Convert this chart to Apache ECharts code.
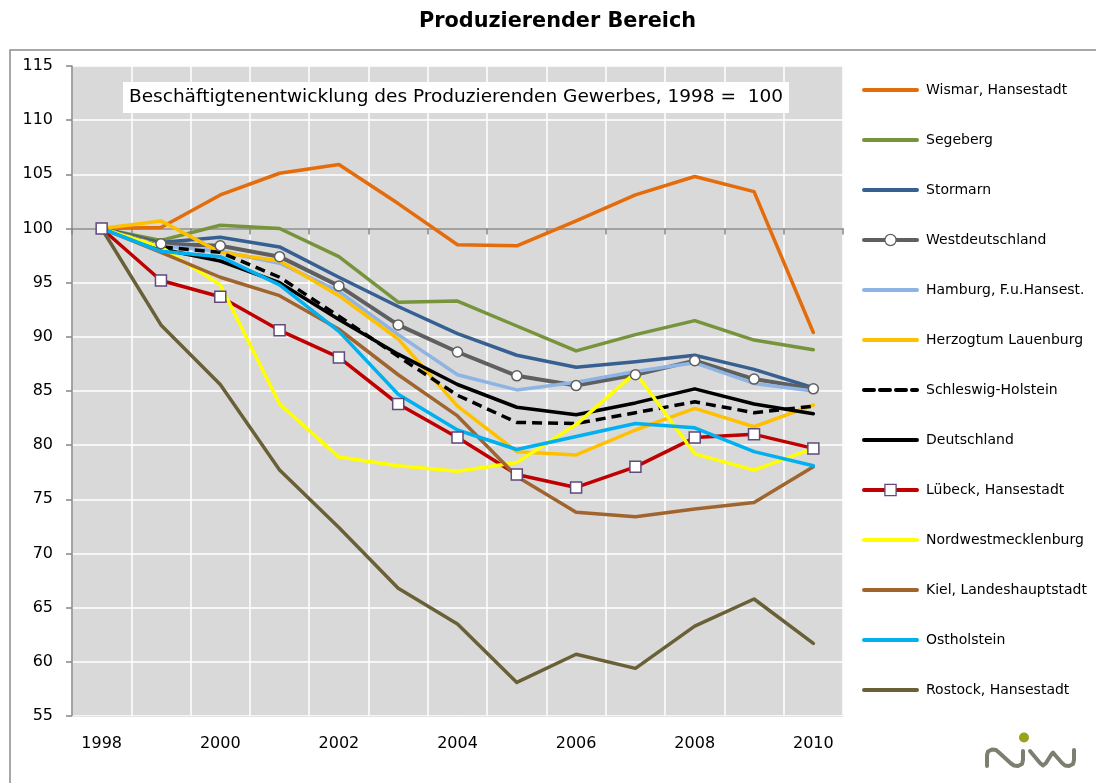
<!DOCTYPE html>
<html>
<head>
<meta charset="utf-8">
<script src="https://cdn.jsdelivr.net/npm/echarts@6/dist/echarts.min.js"></script>
<style>
  html, body { margin: 0; padding: 0; background: #fff; }
  #chart { width: 1096px; height: 783px; }
</style>
</head>
<body>
<div id="chart"></div>
<script>
// Years on the category axis
const years = ['1998','1999','2000','2001','2002','2003','2004','2005','2006','2007','2008','2009','2010'];

// Employment index, producing sector (1998 = 100)
const wismar      = [100, 100.1, 103.1, 105.1, 105.9, 102.3, 98.5, 98.4, 100.7, 103.1, 104.8, 103.4, 90.4];
const segeberg    = [100, 98.9, 100.3, 100.0, 97.4, 93.2, 93.3, 91.0, 88.7, 90.2, 91.5, 89.7, 88.8];
const stormarn    = [100, 98.7, 99.2, 98.3, 95.5, 92.8, 90.3, 88.3, 87.2, 87.7, 88.3, 87.0, 85.3];
const westdeutsch = [100, 98.6, 98.4, 97.4, 94.7, 91.1, 88.6, 86.4, 85.5, 86.5, 87.8, 86.1, 85.2];
const hamburg     = [100, 98.4, 97.9, 96.8, 94.2, 90.2, 86.5, 85.1, 85.8, 86.8, 87.6, 85.7, 85.0];
const lauenburg   = [100, 100.7, 97.8, 97.0, 93.8, 89.8, 83.6, 79.4, 79.1, 81.4, 83.4, 81.7, 83.7];
const schleswigH  = [100, 98.3, 97.8, 95.5, 91.9, 88.2, 84.6, 82.1, 82.0, 83.0, 84.0, 83.0, 83.6];
const deutschland = [100, 98.1, 97.0, 95.0, 91.6, 88.4, 85.6, 83.5, 82.8, 83.9, 85.2, 83.8, 82.9];
const luebeck     = [100, 95.2, 93.7, 90.6, 88.1, 83.8, 80.7, 77.3, 76.1, 78.0, 80.7, 81.0, 79.7];
const nwMecklenb  = [100, 98.3, 94.8, 83.8, 78.9, 78.1, 77.6, 78.4, 81.9, 86.7, 79.2, 77.7, 79.7];
const kiel        = [100, 97.8, 95.5, 93.8, 90.7, 86.5, 82.7, 77.1, 73.8, 73.4, 74.1, 74.7, 78.0];
const ostholstein = [100, 97.9, 97.4, 94.8, 90.5, 84.7, 81.4, 79.6, 80.8, 82.0, 81.6, 79.4, 78.1];
const rostock     = [100, 91.1, 85.6, 77.7, 72.4, 66.8, 63.5, 58.1, 60.7, 59.4, 63.3, 65.8, 61.7];

// Value axis range
const yMin = 55, yMax = 115, yStep = 5, baseLine = 100;

const FONT = 'DejaVu Sans';

const grid = { left: 72, top: 66, right: 253, bottom: 67 };
const plotH = 783 - grid.top - grid.bottom;
// the reference axis through 100 sits above the bottom edge of the plot
const baseOffset = -plotH * (baseLine - yMin) / (yMax - yMin);

function lineSeries(name, data, color, extra) {
  return Object.assign({
    name: name,
    type: 'line',
    data: data,
    symbol: 'none',
    lineStyle: { color: color, width: 3.5, cap: 'round', join: 'round' },
    itemStyle: { color: color },
    emphasis: { disabled: true },
    z: 2
  }, extra || {});
}

const series = [
  lineSeries('Wismar, Hansestadt', wismar, '#E46C0A'),
  lineSeries('Segeberg', segeberg, '#77933C'),
  lineSeries('Stormarn', stormarn, '#376092'),
  lineSeries('Westdeutschland', westdeutsch, '#5F5F5F', {
    symbol: 'circle', symbolSize: 10,
    lineStyle: { color: '#5F5F5F', width: 4, cap: 'round', join: 'round' },
    itemStyle: { color: '#ffffff', borderColor: '#5F5F5F', borderWidth: 1.5 }
  }),
  lineSeries('Hamburg, F.u.Hansest.', hamburg, '#8EB4E3'),
  lineSeries('Herzogtum Lauenburg', lauenburg, '#FFC000'),
  lineSeries('Schleswig-Holstein', schleswigH, '#000000', {
    lineStyle: { color: '#000000', width: 3.5, type: [10, 6], cap: 'butt', join: 'round' }
  }),
  lineSeries('Deutschland', deutschland, '#000000'),
  lineSeries('Lübeck, Hansestadt', luebeck, '#C00000', {
    symbol: 'rect', symbolSize: 11,
    itemStyle: { color: '#ffffff', borderColor: '#604A7B', borderWidth: 1.5 }
  }),
  lineSeries('Nordwestmecklenburg', nwMecklenb, '#FFFF00'),
  lineSeries('Kiel, Landeshauptstadt', kiel, '#A0652F'),
  lineSeries('Ostholstein', ostholstein, '#00B0F0'),
  lineSeries('Rostock, Hansestadt', rostock, '#6A6038')
];

// Legend entries: thick line keys, with the marker only where the series has one
const legendItems = series.map(s => {
  const hasMarker = s.symbol !== 'none';
  return {
    name: s.name,
    lineStyle: { color: s.lineStyle.color, width: 4, type: s.lineStyle.type || 'solid', cap: 'round' },
    itemStyle: hasMarker
      ? { color: '#ffffff', borderColor: s.itemStyle.borderColor, borderWidth: 1.3, opacity: 1 }
      : { opacity: 0 }
  };
});

const chart = echarts.init(document.getElementById('chart'), null, { renderer: 'canvas' });

const logoStroke = { fill: null, stroke: '#7E7E70', lineWidth: 4, lineCap: 'round', lineJoin: 'round' };

chart.setOption({
  animation: false,
  backgroundColor: '#ffffff',
  textStyle: { fontFamily: FONT },
  title: [
    {
      text: 'Produzierender Bereich',
      left: 414, top: 6,
      textStyle: { fontFamily: FONT, fontWeight: 'bold', fontSize: 20.8, color: '#000' }
    },
    {
      text: 'Beschäftigtenentwicklung des Produzierenden Gewerbes, 1998 =  100',
      left: 123, top: 82,
      backgroundColor: '#ffffff',
      padding: [6, 6, 6, 6],
      textStyle: { fontFamily: FONT, fontWeight: 'normal', fontSize: 18.5, color: '#000' }
    }
  ],
  legend: {
    orient: 'vertical',
    left: 862, top: 83,
    itemWidth: 53, itemHeight: 14,
    itemGap: 36,
    padding: 0,
    selectedMode: false,
    textStyle: { fontFamily: FONT, fontSize: 14, lineHeight: 14, color: '#000', padding: [0, 0, 0, 4] },
    data: legendItems
  },
  grid: Object.assign({
    show: true, backgroundColor: '#D9D9D9', borderWidth: 0, containLabel: false
  }, grid),
  xAxis: [
    {
      type: 'category',
      data: years,
      boundaryGap: true,
      axisLine: { show: true, lineStyle: { color: '#E4E4E4', width: 1 } },
      axisTick: { show: false },
      axisLabel: { interval: 1, margin: 20, fontFamily: FONT, fontSize: 16, color: '#000' },
      splitLine: { show: true, interval: 0, lineStyle: { color: '#ffffff', width: 1.5 } }
    },
    {
      // axis through the base year level (100)
      type: 'category',
      data: years,
      boundaryGap: true,
      position: 'bottom',
      offset: baseOffset,
      axisLine: { show: true, lineStyle: { color: '#868686', width: 1.5 } },
      axisTick: { show: true, interval: 0, length: 6, lineStyle: { color: '#868686', width: 1.5 } },
      axisLabel: { show: false },
      splitLine: { show: false }
    }
  ],
  yAxis: {
    type: 'value',
    min: yMin, max: yMax, interval: yStep,
    axisLine: { show: true, lineStyle: { color: '#868686', width: 1.5 } },
    axisTick: { show: true, length: 6, lineStyle: { color: '#868686', width: 1.5 } },
    axisLabel: { margin: 19, fontFamily: FONT, fontSize: 16, color: '#000' },
    splitLine: { show: true, lineStyle: { color: '#ffffff', width: 1.5 } }
  },
  graphic: [
    {
      // outer chart frame
      type: 'rect', silent: true, z: -10,
      shape: { x: 10, y: 50, width: 1100, height: 760 },
      style: { fill: null, stroke: '#8C8C8C', lineWidth: 1.5 }
    },
    {
      // plot-area right edge
      type: 'line', silent: true, z: -5,
      shape: { x1: 842.5, y1: 66, x2: 842.5, y2: 716 },
      style: { stroke: '#D4D4D4', lineWidth: 1.5 }
    },
    {
      // logo mark
      type: 'polyline', silent: true,
      shape: { points: [[987,766],[987,755],[988,751.5],[992,749.5],[996,750],[999,752.5],[1011,763.5],[1014,765.5],[1018,766],[1022,764],[1023,760],[1023,751]] },
      style: logoStroke
    },
    {
      type: 'polyline', silent: true,
      shape: { points: [[1030,751],[1040,763],[1043,765.5],[1046,763],[1051,755],[1053,752.5],[1055,755],[1062,763],[1065,765.5],[1069,766],[1073,764],[1074,760],[1074,750]] },
      style: logoStroke
    },
    {
      type: 'circle', silent: true,
      shape: { cx: 1024, cy: 737.5, r: 5 },
      style: { fill: '#9AA31A' }
    }
  ],
  series: series
});
</script>
</body>
</html>
